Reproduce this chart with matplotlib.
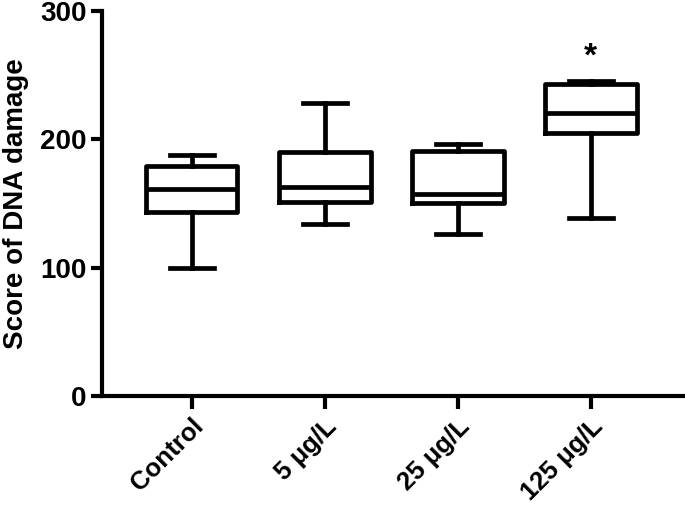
import matplotlib.pyplot as plt

plt.rcParams['font.family'] = ['Liberation Sans', 'DejaVu Sans']
plt.rcParams['font.weight'] = 'bold'

groups = ['Control', '5 μg/L', '25 μg/L', '125 μg/L']
whislo = [100, 134, 126, 139]
q1 = [143, 151, 150, 205]
med = [161, 163, 157, 220]
q3 = [179, 190, 191, 243]
whishi = [188, 228, 196, 245]
star_y = 264

stats = []
for i in range(len(groups)):
    stats.append({'whislo': whislo[i], 'q1': q1[i], 'med': med[i],
                  'q3': q3[i], 'whishi': whishi[i], 'fliers': []})

fig = plt.figure(figsize=(6.85, 5.11), dpi=100)
ax = fig.add_axes([0.1485, 0.225, 0.85, 0.754])

lw = 3.4
ax.bxp(stats, positions=[1, 2, 3, 4], widths=0.69, capwidths=0.33,
       showfliers=False,
       boxprops=dict(linewidth=lw, color='black'),
       medianprops=dict(linewidth=lw, color='black'),
       whiskerprops=dict(linewidth=lw, color='black'),
       capprops=dict(linewidth=lw, color='black'))

ax.text(4, star_y, '*', ha='center', va='center', fontsize=24, fontweight='bold')

ax.set_xlim(0.325, 4.7)
ax.set_ylim(0, 300)
ax.set_yticks([0, 100, 200, 300])
ax.set_xticks([1, 2, 3, 4])
ax.set_xticklabels(groups, rotation=45, ha='right', rotation_mode='anchor', fontsize=18.5)
ax.tick_params(axis='y', labelsize=20, width=3, length=8, pad=3)
ax.tick_params(axis='x', width=3, length=9, pad=4)
ax.set_ylabel('Score of DNA damage', fontsize=20, fontweight='bold', labelpad=8)

for s in ['top', 'right']:
    ax.spines[s].set_visible(False)
for s in ['left', 'bottom']:
    ax.spines[s].set_linewidth(3)

fig.savefig('out.png', dpi=100)
